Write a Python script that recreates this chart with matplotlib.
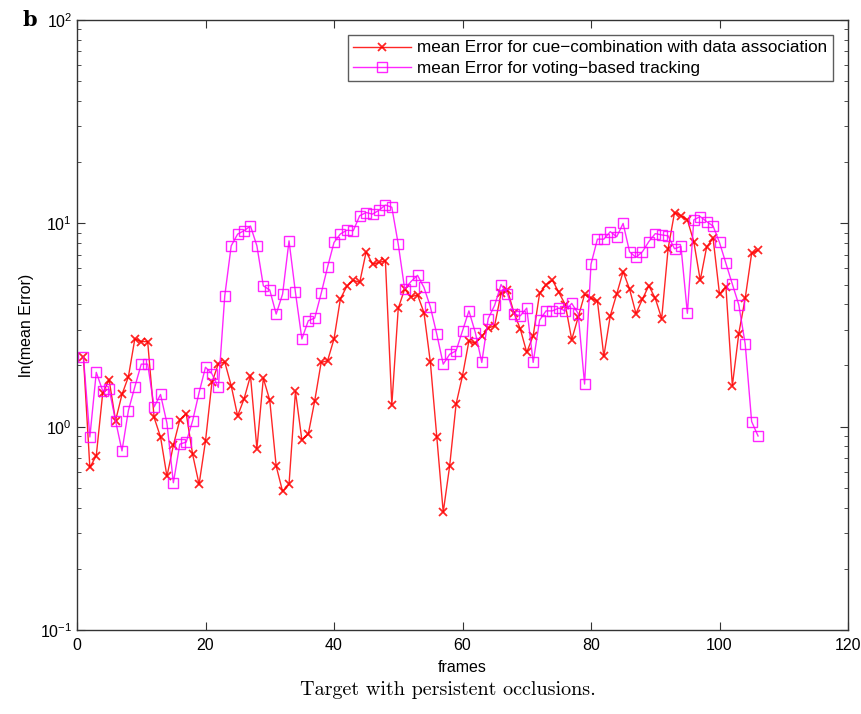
import matplotlib
matplotlib.use("Agg")
import matplotlib.pyplot as plt
import numpy as np

frames = list(range(1, 107))

cue_combination = [
    2.2, 0.63, 0.72, 1.46, 1.70, 1.07, 1.44, 1.76, 2.7, 2.62,
    2.62, 1.11, 0.89, 0.57, 0.81, 1.08, 1.16, 0.73, 0.52, 0.85,
    1.65, 2.04, 2.08, 1.59, 1.13, 1.37, 1.78, 0.78, 1.73, 1.35,
    0.64, 0.48, 0.52, 1.49, 0.86, 0.92, 1.34, 2.07, 2.11, 2.70,
    4.26, 4.9, 5.25, 5.12, 7.24, 6.3, 6.42, 6.55, 1.28, 3.82,
    4.75, 4.35, 4.45, 3.64, 2.07, 0.89, 0.38, 0.64, 1.29, 1.78,
    2.64, 2.57, 2.78, 3.05, 3.14, 4.52, 4.69, 3.64, 3.02, 2.32,
    2.80, 4.52, 4.99, 5.25, 4.57, 3.98, 2.68, 3.45, 4.47, 4.28,
    4.15, 2.22, 3.51, 4.49, 5.79, 4.75, 3.60, 4.24, 4.93, 4.28,
    3.40, 7.5, 11.3, 10.9, 10.4, 8.13, 5.25, 7.65, 8.44, 4.49,
    4.87, 1.59, 2.87, 4.28, 7.11, 7.38,
]

voting_based = [
    2.2, 0.89, 1.85, 1.50, 1.53, 1.07, 0.76, 1.20, 1.57, 2.03,
    2.03, 1.25, 1.44, 1.04, 0.53, 0.82, 0.84, 1.07, 1.47, 1.96,
    1.82, 1.56, 4.4, 7.75, 8.85, 9.2, 9.7, 7.75, 4.93, 4.7,
    3.58, 4.49, 8.2, 4.57, 2.70, 3.32, 3.42, 4.52, 6.1, 8.05,
    8.87, 9.25, 9.2, 10.9, 11.3, 11.1, 11.6, 12.3, 12.0, 7.9,
    4.75, 5.18, 5.55, 4.84, 3.88, 2.85, 2.03, 2.27, 2.36, 2.96,
    3.71, 2.90, 2.07, 3.40, 3.95, 5.0, 4.49, 3.58, 3.51, 3.83,
    2.07, 3.34, 3.71, 3.71, 3.83, 3.71, 4.04, 3.60, 1.62, 6.3,
    8.36, 8.36, 9.1, 8.59, 9.99, 7.25, 6.8, 7.25, 8.13, 8.9,
    8.77, 8.68, 7.5, 7.7, 3.61, 10.4, 10.8, 10.2, 9.7, 8.05,
    6.35, 5.02, 3.98, 2.55, 1.06, 0.90,
]

x_ticks = [0, 20, 40, 60, 80, 100, 120]

plt.rcParams['font.family'] = ['Liberation Sans', 'DejaVu Sans']

fig = plt.figure(figsize=(8.62, 7.14), dpi=100)
ax = fig.add_axes([77/862, 1-630/714, (848-77)/862, (630-20)/714])

ax.plot(frames, cue_combination, color='#ff0000', lw=1.0, marker='x',
        ms=6, mew=1.3, alpha=0.85,
        label='mean Error for cue\u2212combination with data association')
ax.plot(frames, voting_based, color='#ff00ff', lw=1.0, marker='s',
        ms=7, mfc='none', mew=1.0, alpha=0.85,
        label='mean Error for voting\u2212based tracking')

ax.set_yscale('log')
ax.set_ylim(0.1, 100)
ax.set_xlim(0, 120)
ax.set_xticks(x_ticks)
ax.set_xticklabels([str(t) for t in x_ticks])
ax.tick_params(which='both', direction='in', top=True, right=True,
               labelsize=11.5, color='#333333')
ax.tick_params(which='major', length=6)
ax.tick_params(which='minor', length=3)
ax.tick_params(axis='x', pad=6)
for s in ax.spines.values():
    s.set_color('#333333')
    s.set_linewidth(1.0)

ax.set_xlabel('frames', fontsize=11.5, labelpad=5)
ax.set_ylabel('ln(mean Error)', fontsize=11.5, labelpad=4)

leg = ax.legend(loc='upper right', fontsize=12.3, frameon=True, fancybox=False,
                edgecolor='#333333', borderpad=0.3, handlelength=3.4,
                handletextpad=0.35, labelspacing=0.3, borderaxespad=0.9)
leg.get_frame().set_linewidth(1.0)

fig.text(0.035, 0.972, 'b', fontsize=15, fontweight='bold',
         family=['DejaVu Serif'], ha='center', va='center')
fig.text(0.52, 1-690/714, 'Target with persistent occlusions.', fontsize=14.5,
         family=['cmr10', 'DejaVu Serif'], ha='center', va='center')

fig.savefig('out.png', dpi=100)
